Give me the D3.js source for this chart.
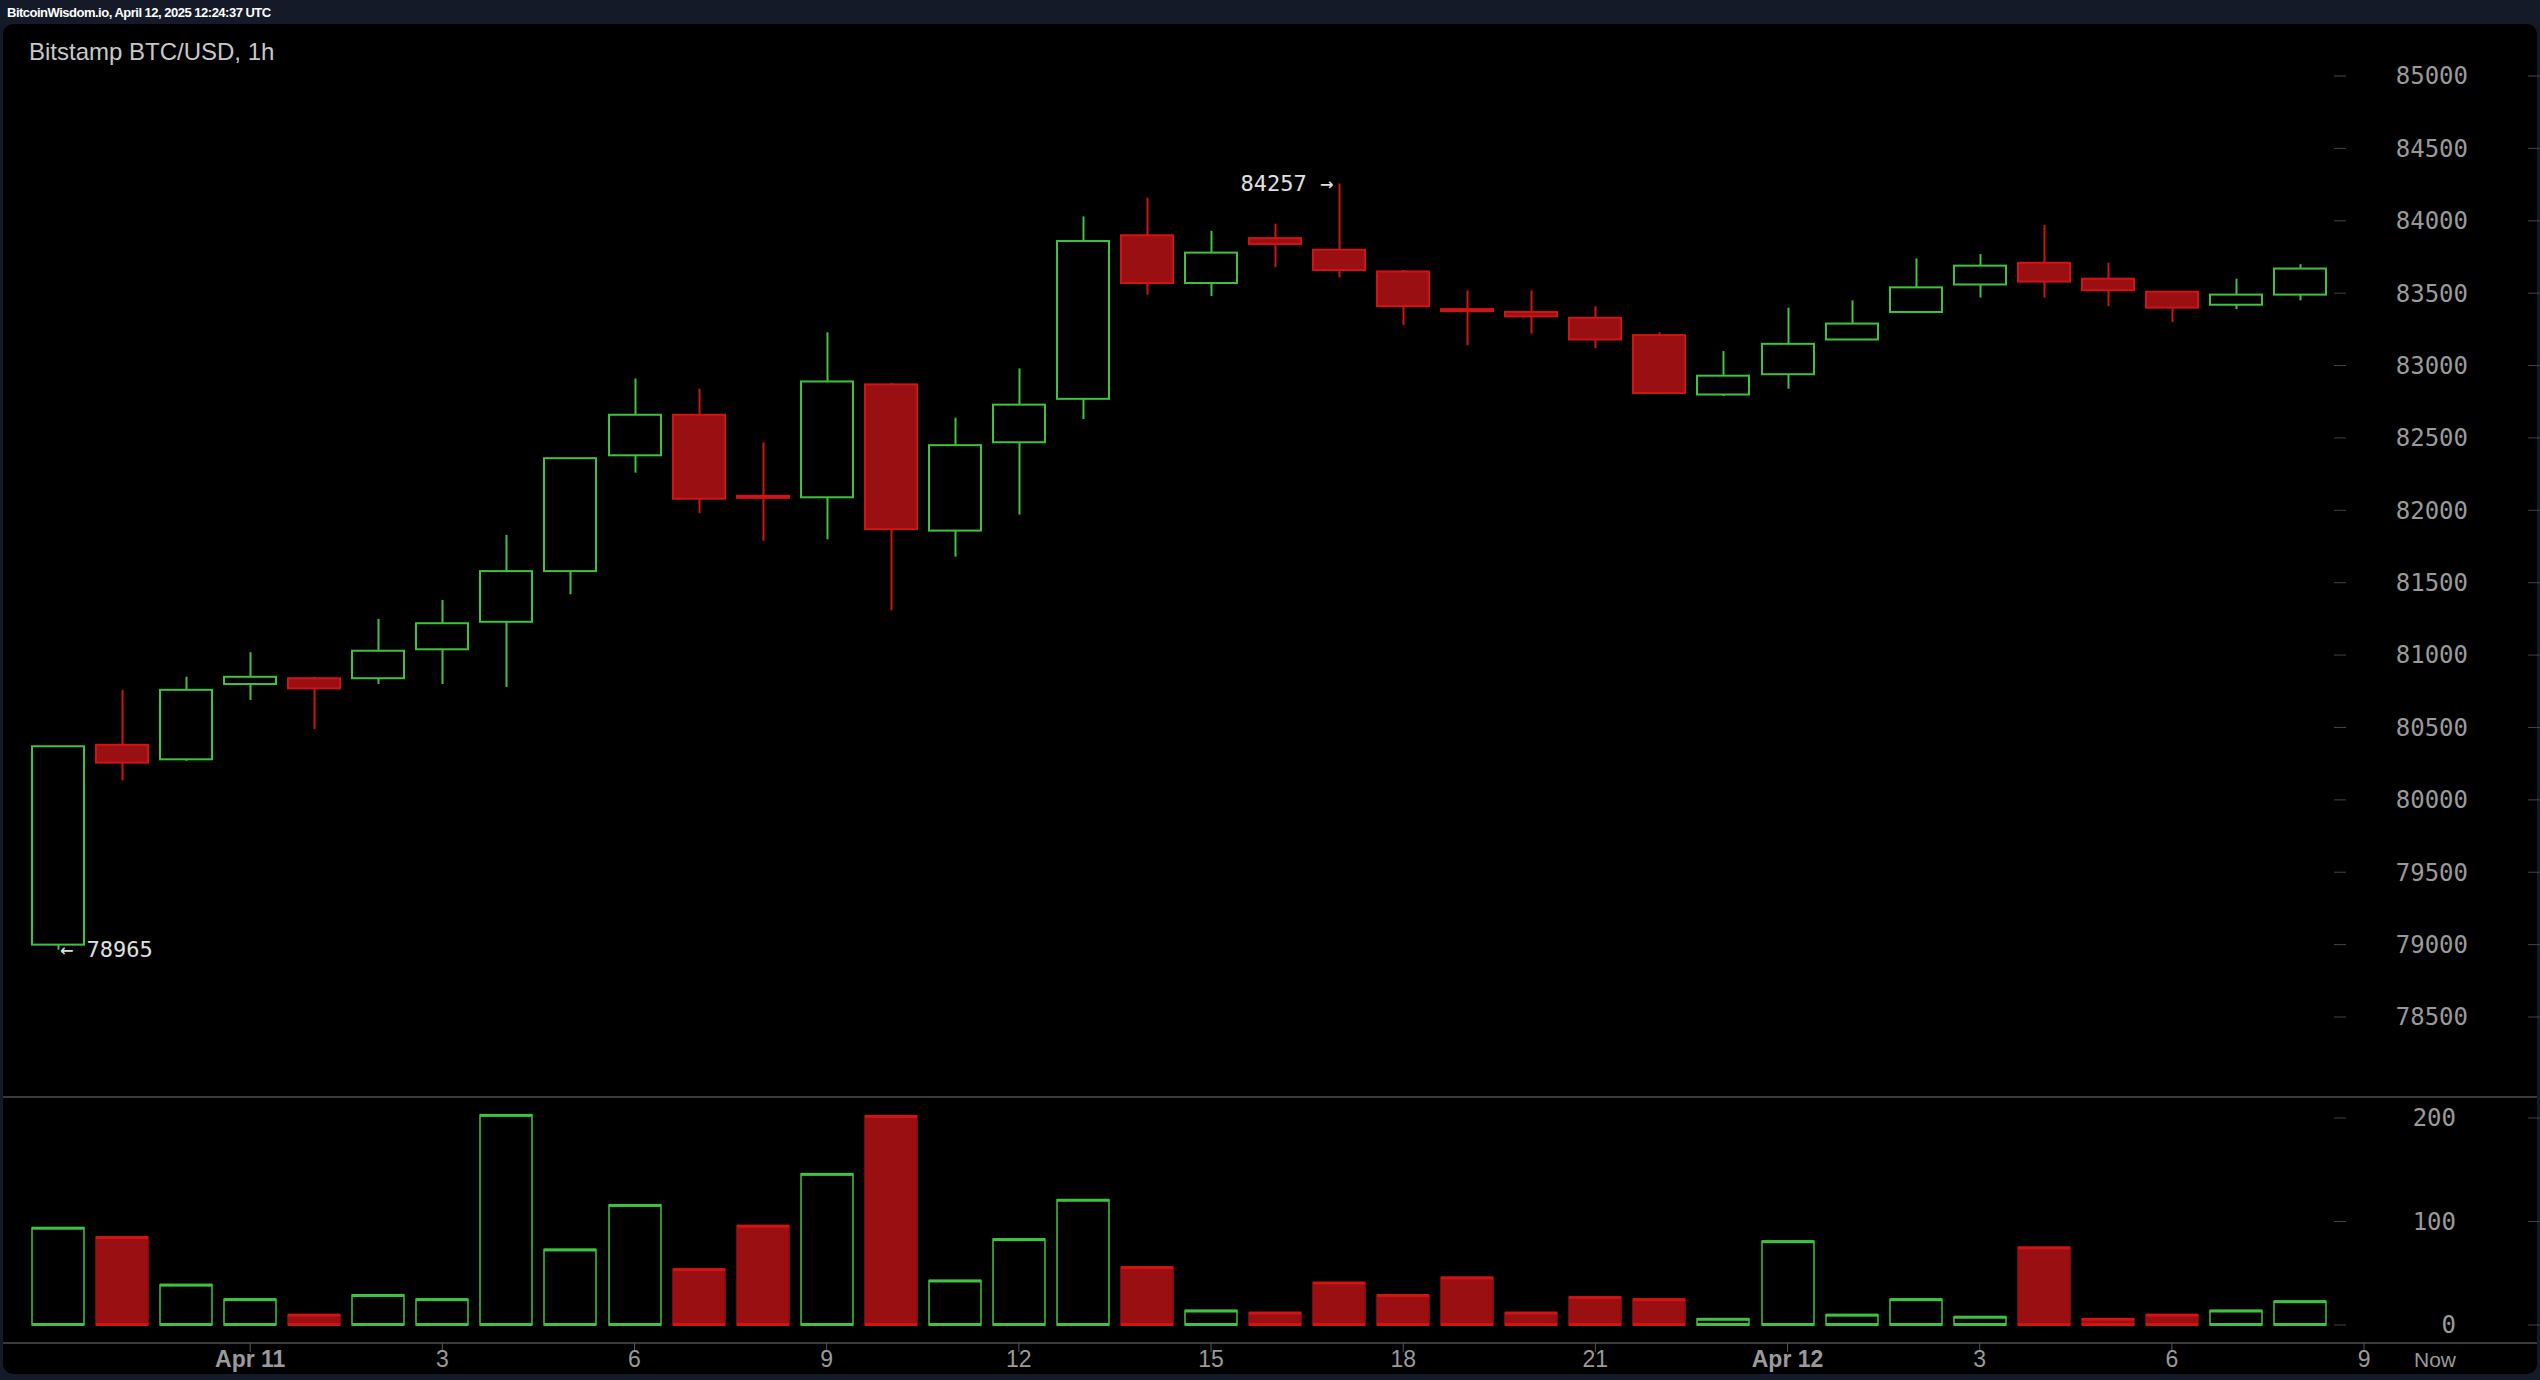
<!DOCTYPE html>
<html>
<head>
<meta charset="utf-8">
<script src="https://cdn.jsdelivr.net/npm/d3@7"></script>
<style>
  body { margin: 0; background: #141a28; }
  svg { display: block; }
</style>
</head>
<body>
<svg id="chart" width="2540" height="1380"></svg>
<script>
// hourly candles, Apr 10 21:00 .. Apr 12 08:00 UTC
const opens  = [79000, 80380, 80280, 80800, 80840, 80840, 81040, 81230, 81580, 82380, 82660, 82100,
                82090, 82870, 81860, 82470, 82770, 83900, 83570, 83880, 83800, 83650, 83390, 83370,
                83330, 83210, 82800, 82940, 83180, 83370, 83560, 83710, 83600, 83510, 83420, 83490];
const highs  = [80370, 80760, 80850, 81020, 80850, 81250, 81380, 81830, 82360, 82910, 82840, 82470,
                83230, 82880, 82640, 82980, 84030, 84160, 83930, 83980, 84257, 83660, 83520, 83520,
                83410, 83230, 83100, 83400, 83450, 83740, 83770, 83970, 83710, 83510, 83600, 83700];
const lows   = [78965, 80134, 80270, 80690, 80490, 80800, 80800, 80780, 81420, 82260, 81980, 81790,
                81800, 81310, 81680, 81970, 82630, 83490, 83480, 83680, 83610, 83280, 83140, 83220,
                83120, 82810, 82790, 82840, 83180, 83370, 83470, 83470, 83410, 83300, 83390, 83450];
const closes = [80370, 80257, 80760, 80850, 80770, 81030, 81220, 81580, 82360, 82660, 82080, 82090,
                82890, 81870, 82450, 82730, 83860, 83570, 83780, 83840, 83660, 83410, 83385, 83340,
                83180, 82810, 82930, 83150, 83290, 83540, 83690, 83580, 83520, 83400, 83490, 83670];
const volumes = [94, 85, 39, 25, 10, 29, 25, 203, 73, 116, 54, 96, 146, 202, 43, 83, 121, 56,
                 14, 12, 41, 29, 46, 12, 27, 25, 6, 81, 10, 25, 8, 75, 6, 10, 14, 23];
const priceTicks = [78500, 79000, 79500, 80000, 80500, 81000, 81500, 82000, 82500, 83000, 83500, 84000, 84500, 85000];
const volumeTicks = [0, 100, 200];
const timeLabels = [[3, "Apr 11"], [6, "3"], [9, "6"], [12, "9"], [15, "12"], [18, "15"], [21, "18"],
                    [24, "21"], [27, "Apr 12"], [30, "3"], [33, "6"], [36, "9"]];
const maxMark = { i: 20, v: 84257 }, minMark = { i: 0, v: 78965 };

const svg = d3.select("#chart");
const GREEN = "#3fc23f", RED_STROKE = "#d01414", RED_FILL = "#9a0f12";
const mono = "DejaVu Sans Mono, monospace";

svg.append("rect").attr("width", 2540).attr("height", 1380).attr("fill", "#141a28");
svg.append("rect").attr("x", 3).attr("y", 24).attr("width", 2534).attr("height", 1350)
    .attr("rx", 10).attr("fill", "#000");
svg.append("text").attr("x", 7).attr("y", 17).attr("fill", "#fff")
    .attr("font-family", "Liberation Sans, Arial, sans-serif").attr("font-size", 13)
    .attr("font-weight", "bold").attr("letter-spacing", -0.5)
    .text("BitcoinWisdom.io, April 12, 2025 12:24:37 UTC");
svg.append("text").attr("x", 29).attr("y", 60).attr("fill", "#c8c8c8")
    .attr("font-family", "Liberation Sans, Arial, sans-serif").attr("font-size", 24)
    .text("Bitstamp BTC/USD, 1h");

const idx = d3.range(opens.length);
const x = d3.scaleLinear().domain([0, 35]).range([58, 2300]);
const bw = 52;
const y = d3.scaleLinear().domain([78500, 85000]).range([1017, 76]);
const yv = d3.scaleLinear().domain([0, 200]).range([1325, 1118]);

// separators
svg.append("line").attr("x1", 3).attr("x2", 2537).attr("y1", 1097).attr("y2", 1097)
    .attr("stroke", "#3a3a3a").attr("stroke-width", 2);
svg.append("line").attr("x1", 3).attr("x2", 2537).attr("y1", 1343).attr("y2", 1343)
    .attr("stroke", "#3a3a3a").attr("stroke-width", 2);

// price axis
const pAxis = svg.append("g");
priceTicks.forEach(t => {
    pAxis.append("line").attr("x1", 2334).attr("x2", 2346).attr("y1", y(t)).attr("y2", y(t)).attr("stroke", "#444");
    pAxis.append("line").attr("x1", 2528).attr("x2", 2540).attr("y1", y(t)).attr("y2", y(t)).attr("stroke", "#444");
    pAxis.append("text").attr("x", 2468).attr("y", y(t)).attr("dy", "0.35em").attr("text-anchor", "end")
        .attr("fill", "#9a9a9a").attr("font-family", mono).attr("font-size", 24).text(t);
});
volumeTicks.forEach(t => {
    pAxis.append("line").attr("x1", 2334).attr("x2", 2346).attr("y1", yv(t)).attr("y2", yv(t)).attr("stroke", "#444");
    pAxis.append("line").attr("x1", 2528).attr("x2", 2540).attr("y1", yv(t)).attr("y2", yv(t)).attr("stroke", "#444");
    pAxis.append("text").attr("x", 2456).attr("y", yv(t)).attr("dy", "0.35em").attr("text-anchor", "end")
        .attr("fill", "#9a9a9a").attr("font-family", mono).attr("font-size", 24).text(t);
});

// time axis
timeLabels.forEach(([i, l]) => {
    const g = svg.append("g").attr("transform", `translate(${x(i)},0)`);
    g.append("line").attr("y1", 1343).attr("y2", 1352).attr("stroke", "#555");
    g.append("text").attr("y", 1367).attr("text-anchor", "middle").attr("fill", "#9a9a9a")
        .attr("font-family", "Liberation Sans, Arial, sans-serif").attr("font-size", 23)
        .attr("font-weight", l.startsWith("Apr") ? "bold" : "normal").text(l);
});
svg.append("text").attr("x", 2435).attr("y", 1367).attr("text-anchor", "middle").attr("fill", "#9a9a9a")
    .attr("font-family", "Liberation Sans, Arial, sans-serif").attr("font-size", 21).text("Now");

// candles
const up = i => closes[i] >= opens[i];
const c = svg.append("g").selectAll("g").data(idx).join("g");
c.append("line")
    .attr("x1", i => Math.round(x(i)) + 0.5).attr("x2", i => Math.round(x(i)) + 0.5)
    .attr("y1", i => y(highs[i])).attr("y2", i => y(Math.max(opens[i], closes[i])))
    .attr("stroke", i => up(i) ? GREEN : RED_STROKE).attr("stroke-width", 2);
c.append("line")
    .attr("x1", i => Math.round(x(i)) + 0.5).attr("x2", i => Math.round(x(i)) + 0.5)
    .attr("y1", i => y(Math.min(opens[i], closes[i]))).attr("y2", i => y(lows[i]))
    .attr("stroke", i => up(i) ? GREEN : RED_STROKE).attr("stroke-width", 2);
c.append("rect")
    .attr("x", i => Math.round(x(i) - bw / 2))
    .attr("y", i => y(Math.max(opens[i], closes[i])))
    .attr("width", bw)
    .attr("height", i => Math.max(2, Math.abs(y(opens[i]) - y(closes[i]))))
    .attr("fill", i => up(i) ? "#000" : RED_FILL)
    .attr("stroke", i => up(i) ? GREEN : RED_STROKE).attr("stroke-width", 2);

// volume bars
const v = svg.append("g").selectAll("g").data(idx).join("g");
v.append("rect")
    .attr("x", i => Math.round(x(i) - bw / 2)).attr("y", i => yv(volumes[i]))
    .attr("width", bw).attr("height", i => yv(0) - yv(volumes[i]))
    .attr("fill", i => up(i) ? "#000" : RED_FILL)
    .attr("stroke", i => up(i) ? GREEN : RED_FILL).attr("stroke-width", 1.5);
v.append("rect")
    .attr("x", i => Math.round(x(i) - bw / 2)).attr("y", i => yv(volumes[i]) - 1)
    .attr("width", bw).attr("height", 3).attr("fill", i => up(i) ? GREEN : RED_STROKE);
v.append("rect")
    .attr("x", i => Math.round(x(i) - bw / 2)).attr("y", yv(0) - 2)
    .attr("width", bw).attr("height", 3).attr("fill", i => up(i) ? GREEN : RED_STROKE);

// extreme annotations
svg.append("text").attr("x", x(maxMark.i) - 6).attr("y", y(maxMark.v)).attr("dy", "0.35em").attr("text-anchor", "end")
    .attr("fill", "#e0e0e0").attr("font-family", mono).attr("font-size", 22).text(maxMark.v + " →");
svg.append("text").attr("x", x(minMark.i) + 2).attr("y", y(minMark.v)).attr("dy", "0.35em")
    .attr("fill", "#e0e0e0").attr("font-family", mono).attr("font-size", 22).text("← " + minMark.v);
</script>
</body>
</html>
